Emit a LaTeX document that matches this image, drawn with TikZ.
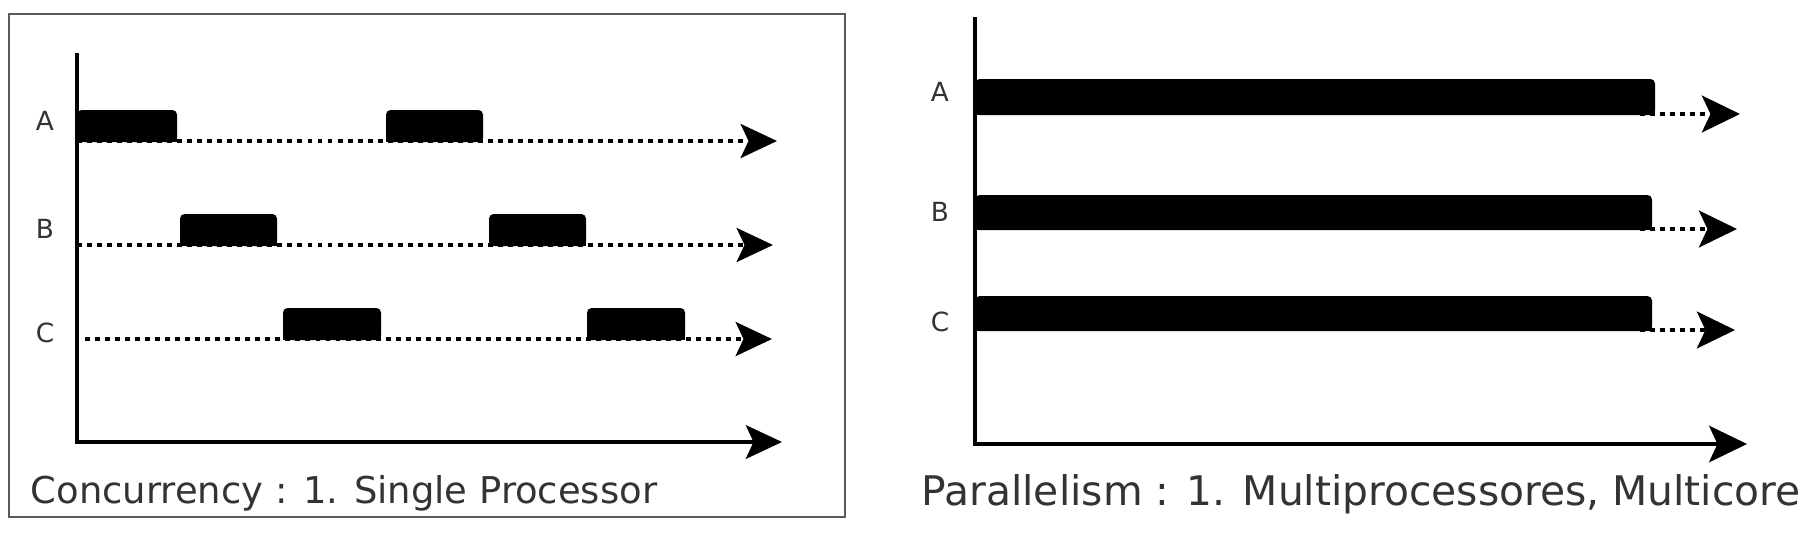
\documentclass[tikz,border=0pt]{standalone}
\usepackage{fontspec}
\setmainfont{DejaVu Sans}
\usetikzlibrary{arrows.meta}
\definecolor{txt}{HTML}{333333}
\definecolor{frm}{HTML}{5A5A5A}
\newcommand\taskbar[4]{\fill[rounded corners=1.3pt] (#1,#3) -- (#1,#4) -- (#2,#4) -- (#2,#3) -- cycle;
  \fill (#1,#3) rectangle (#2,{(#3+#4)/2});}
\begin{document}
\begin{tikzpicture}[x=0.01cm,y=-0.01cm,
  axisline/.style={line width=0.9pt,-{Stealth[length=10.3pt,width=9.6pt,inset=2.2pt]}},
  axislineR/.style={line width=0.9pt,-{Stealth[length=10.8pt,width=10.4pt,inset=2.4pt]}},
  lane/.style={line width=1.4pt,dash pattern=on 1.4pt off 1.45pt,-{Stealth[length=10.3pt,width=9.6pt,inset=2.2pt]}},
  laneR/.style={line width=1.4pt,dash pattern=on 1.4pt off 1.45pt,-{Stealth[length=10.8pt,width=10.4pt,inset=2.4pt]}},
  lbl/.style={text=txt,font=\fontsize{7.5}{8}\selectfont,inner sep=0pt},
  capL/.style={text=txt,font=\fontsize{10.5}{12}\selectfont,inner sep=0pt,anchor=base west},
  capR/.style={text=txt,font=\fontsize{11.6}{13}\selectfont,inner sep=0pt,anchor=base west}]
\useasboundingbox[fill=white] (0,0) rectangle (1801,533);
% ---------- left panel ----------
\draw[frm,line width=0.7pt] (9,14) rectangle (845,517);
\coordinate (Ltop) at (77,53);
\coordinate (Lorig) at (77,442);
\coordinate (Lend) at (782,442);
\draw[axisline] (Ltop) -- (Lorig) -- (Lend);
\coordinate (LAs) at (77,141);  \coordinate (LAe) at (777,141);
\coordinate (LBs) at (77,245);  \coordinate (LBe) at (773,245);
\coordinate (LCs) at (85,339);  \coordinate (LCe) at (772,339);
\draw[lane] (LAs) -- (LAe);
\draw[lane] (LBs) -- (LBe);
\draw[lane] (LCs) -- (LCe);
\taskbar{77}{177}{142}{110}
\taskbar{386}{483}{142}{110}
\taskbar{180}{277}{246}{214}
\taskbar{489}{586}{246}{214}
\taskbar{283}{381}{340}{308}
\taskbar{587}{685}{340}{308}
\node[lbl] (la) at (45,121) {A};
\node[lbl] (lb) at (45,229) {B};
\node[lbl] (lc) at (45,333) {C};
\node[capL] (capl) at (30,503) {Concurrency : 1. Single Processor};
% ---------- right panel ----------
\coordinate (Rtop) at (975,17);
\coordinate (Rorig) at (975,444);
\coordinate (Rend) at (1747,444);
\draw[axislineR] (Rtop) -- (Rorig) -- (Rend);
\coordinate (RAs) at (1640,114); \coordinate (RAe) at (1740,114);
\coordinate (RBs) at (1640,229); \coordinate (RBe) at (1737,229);
\coordinate (RCs) at (1640,330); \coordinate (RCe) at (1735,330);
\draw[laneR] (RAs) -- (RAe);
\draw[laneR] (RBs) -- (RBe);
\draw[laneR] (RCs) -- (RCe);
\taskbar{975}{1655}{115}{79}
\taskbar{975}{1652}{230}{195}
\taskbar{975}{1652}{331}{296}
\node[lbl] (ra) at (940,92) {A};
\node[lbl] (rb) at (940,212) {B};
\node[lbl] (rc) at (940,322) {C};
\node[capR] (capr) at (921,505) {Parallelism : 1. Multiprocessores, Multicore};
\end{tikzpicture}
\end{document}
